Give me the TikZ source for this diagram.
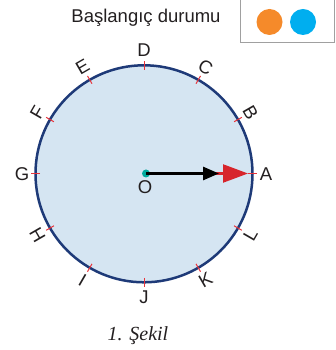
\documentclass[tikz,border=0pt]{standalone}
\usepackage{fontspec}
\setmainfont{Liberation Sans}
\newfontfamily\capfont{Liberation Serif}
\usetikzlibrary{arrows.meta, positioning, calc}
\definecolor{DiskFill}{HTML}{D5E5F2}
\definecolor{DiskEdge}{HTML}{1E3A78}
\definecolor{TickRed}{HTML}{E8333A}
\definecolor{VecRed}{HTML}{D7252C}
\definecolor{DotTeal}{HTML}{00A99D}
\definecolor{BallOrange}{HTML}{F58A2A}
\definecolor{BallBlue}{HTML}{00AEEF}
\definecolor{BoxGray}{HTML}{A0A0A0}
\definecolor{DarkText}{HTML}{231F20}

\tikzset{
  lbl/.style={inner sep=0pt, text=DarkText, font=\fontsize{18.5}{20}\selectfont},
  tickmark/.style={draw=TickRed, line width=1pt},
  redvec/.style={draw=VecRed, line width=2.2pt, -{Triangle[length=25pt, width=18pt]}},
  blackvec/.style={draw=black, line width=2.8pt, -{Triangle[length=16pt, width=13pt]}}
}

\begin{document}
\begin{tikzpicture}[x=1pt, y=1pt]
  \useasboundingbox (0,0) rectangle (335,350);

  % legend
  \node[lbl, anchor=base] (legend) at (146,327) {Başlangıç durumu};
  \draw[BoxGray, line width=1pt] (240,353) rectangle (334,307);
  \fill[BallOrange] (269.5,328) circle (13);
  \fill[BallBlue] (303,328) circle (13);

  % disk
  \coordinate (ctr) at (144,176.2);
  \draw[fill=DiskFill, draw=DiskEdge, line width=2.5pt] (ctr) circle (108.5);

  % ticks
  \draw[tickmark] (ctr) +(0:104) -- +(0:113);
  \draw[tickmark] (ctr) +(30:104) -- +(30:113);
  \draw[tickmark] (ctr) +(60:104) -- +(60:113);
  \draw[tickmark] (ctr) +(90:104) -- +(90:113);
  \draw[tickmark] (ctr) +(120:104) -- +(120:113);
  \draw[tickmark] (ctr) +(150:104) -- +(150:113);
  \draw[tickmark] (ctr) +(180:104) -- +(180:113);
  \draw[tickmark] (ctr) +(210:104) -- +(210:113);
  \draw[tickmark] (ctr) +(240:104) -- +(240:113);
  \draw[tickmark] (ctr) +(270:104) -- +(270:113);
  \draw[tickmark] (ctr) +(300:104) -- +(300:113);
  \draw[tickmark] (ctr) +(330:104) -- +(330:113);

  % letters round the rim
  \node[lbl] (A) at ($(ctr)+(0:122)$) {A};
  \node[lbl, rotate=-60] (B) at ($(ctr)+(30:123)$) {B};
  \node[lbl, rotate=-30] (C) at ($(ctr)+(60:123)$) {C};
  \node[lbl] (D) at ($(ctr)+(90:124)$) {D};
  \node[lbl, rotate=30] (E) at ($(ctr)+(120:123)$) {E};
  \node[lbl, rotate=60] (F) at ($(ctr)+(150:123)$) {F};
  \node[lbl] (G) at ($(ctr)+(180:122)$) {G};
  \node[lbl, rotate=-60] (H) at ($(ctr)+(210:123)$) {H};
  \node[lbl, rotate=-30] (I) at ($(ctr)+(240:123)$) {I};
  \node[lbl] (J) at ($(ctr)+(270:123)$) {J};
  \node[lbl, rotate=30] (K) at ($(ctr)+(300:123)$) {K};
  \node[lbl, rotate=60] (L) at ($(ctr)+(330:123)$) {L};

  % centre and vectors
  \node[circle, fill=DotTeal, inner sep=0pt, minimum size=8pt] (O) at (146,176.5) {};
  \node[lbl] (Olbl) at (145,163) {O};
  \coordinate (redtip) at (248,176.5);
  \coordinate (blacktip) at (219,176.5);
  \draw[redvec] (O.center) -- (redtip);
  \draw[blackvec] (O.center) -- (blacktip);

  % caption
  \node[anchor=base, text=DarkText, font=\capfont\itshape\fontsize{20}{22}\selectfont] (cap) at (138,9.5) {1. Şekil};
\end{tikzpicture}
\end{document}
